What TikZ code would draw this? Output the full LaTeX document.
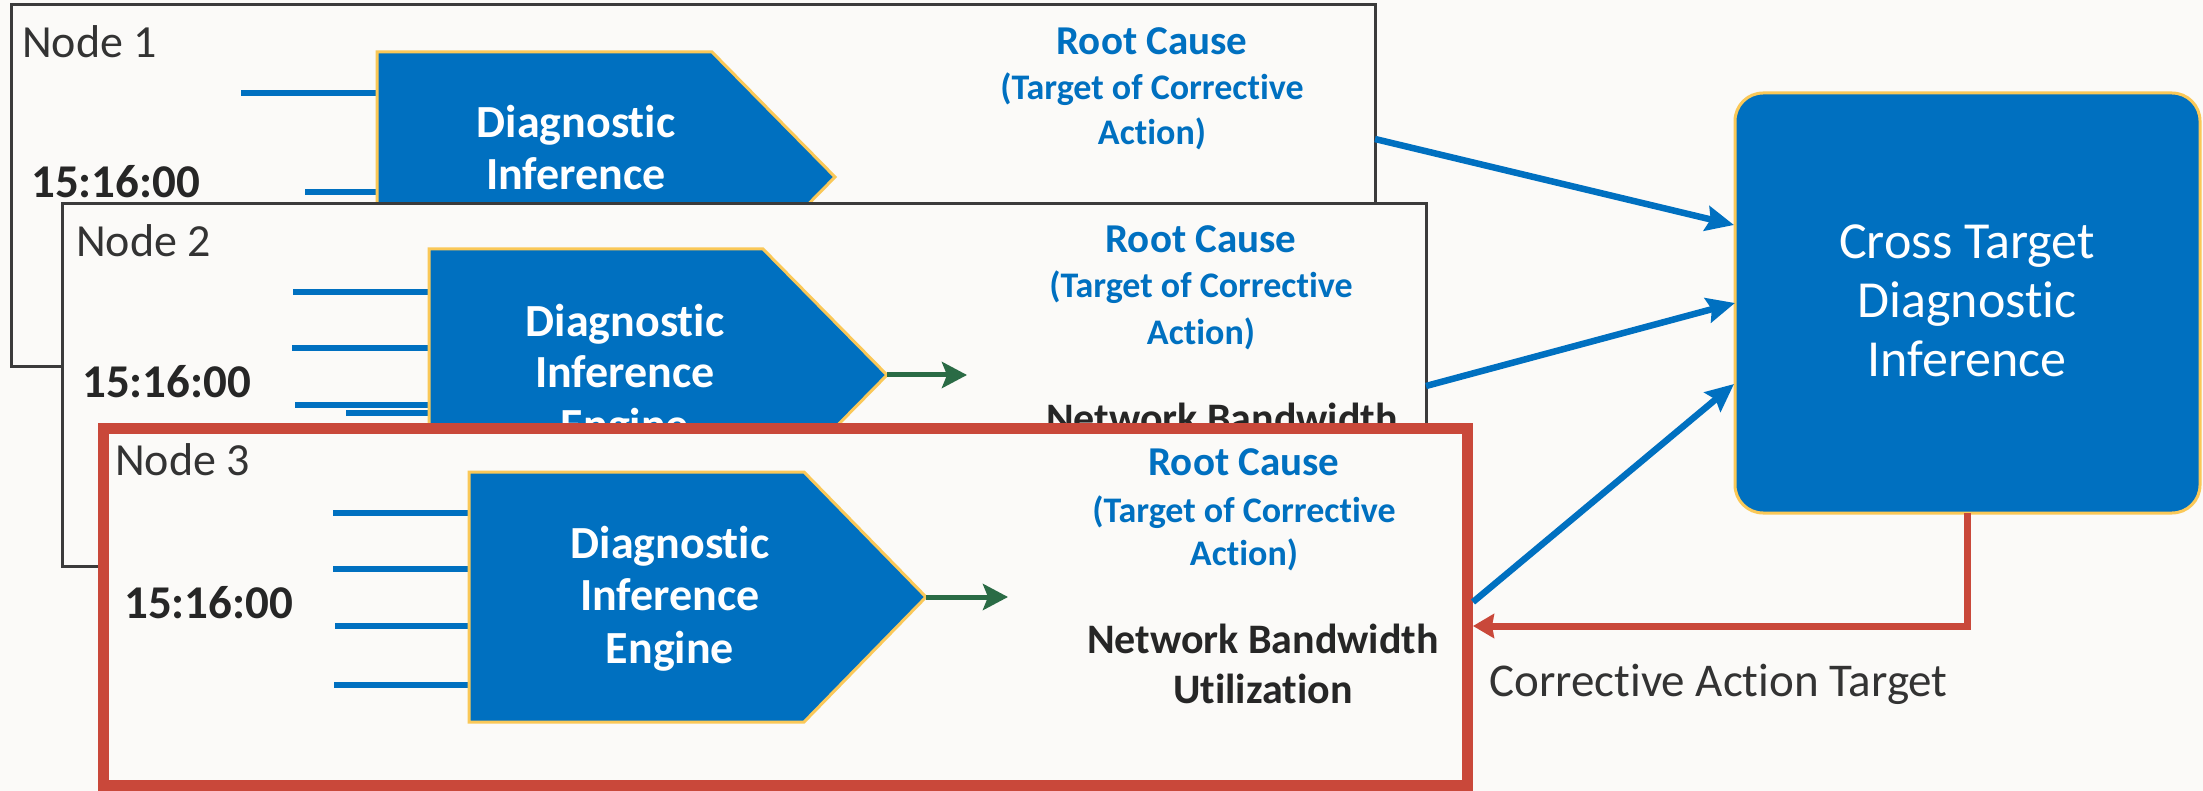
\documentclass[tikz,border=0pt]{standalone}
\usepackage{fontspec}
\setmainfont{Carlito}[Ligatures={NoCommon}]
\usetikzlibrary{arrows.meta}
\definecolor{dblue}{HTML}{0070C0}
\definecolor{gold}{HTML}{FAC858}
\definecolor{bg}{HTML}{FBFAF8}
\definecolor{boxgray}{HTML}{3B3B3B}
\definecolor{cred}{HTML}{C9483A}
\definecolor{dgreen}{HTML}{2A6B45}
\definecolor{txtgray}{HTML}{333333}
\definecolor{txtdark}{HTML}{262626}
\tikzset{
  panel/.style={draw=boxgray, line width=3pt, fill=bg, inner sep=0pt, outer sep=0pt, anchor=north west},
  redpanel/.style={draw=cred, line width=11.5pt, fill=bg, inner sep=0pt, outer sep=0pt, anchor=north west},
  pent/.style={fill=dblue, draw=gold, line width=3pt, line join=miter},
  inln/.style={draw=dblue, line width=6pt},
  lbl/.style={font=\fontsize{46}{50}\selectfont, text=txtgray, inner sep=0pt, anchor=base west},
  timelbl/.style={font=\bfseries\fontsize{47}{50}\selectfont, text=txtdark, inner sep=0pt, anchor=base west},
  eng/.style={font=\bfseries\fontsize{46}{50}\selectfont, text=white, inner sep=0pt, anchor=base},
  rc/.style={font=\bfseries\fontsize{41}{45}\selectfont, text=dblue, inner sep=0pt, anchor=base},
  tgt/.style={font=\bfseries\fontsize{36}{40}\selectfont, text=dblue, inner sep=0pt, anchor=base},
  nbw/.style={font=\bfseries\fontsize{42}{45}\selectfont, text=txtdark, inner sep=0pt, anchor=base},
  ctbox/.style={fill=dblue, draw=gold, line width=3pt, rounded corners=28pt, inner sep=0pt, outer sep=0pt, anchor=north west},
  cttxt/.style={font=\fontsize{52}{56}\selectfont, text=white, inner sep=0pt, anchor=base},
  garrow/.style={draw=dgreen, line width=5pt, -{Stealth[length=25pt,width=26pt,inset=5pt]}},
  barrow/.style={draw=dblue, line width=6.5pt, -{Stealth[length=28pt,width=25pt,inset=4pt]}},
  rarrow/.style={draw=cred, line width=7pt, -{Stealth[length=21pt,width=24pt,inset=2pt]}},
}
\begin{document}
\begin{tikzpicture}[x=1pt,y=-1pt]
\useasboundingbox[fill=bg] (0,0) rectangle (2203,791);

% ---------------- Panel 1 ----------------
\node[panel, minimum width=1364pt, minimum height=362pt] (p1) at (11,5) {};
\draw[inln] (241,93) -- (377,93);
\draw[inln] (305,192) -- (377,192);
\draw[pent] (377,52) -- (712,52) -- (835,177) -- (712,302) -- (377,302) -- cycle;
\node[eng] (e1a) at (576,138) {Diagnostic};
\node[eng] (e1b) at (576,190) {Inference};
\node[lbl] (l1) at (22,58) {Node 1};
\node[timelbl] (t1) at (31,198) {15:16:00};
\node[rc] (r1a) at (1152,55) {Root Cause};
\node[tgt] (r1b) at (1152,100) {(Target of Corrective};
\node[tgt] (r1c) at (1152,145) {Action)};

% ---------------- Panel 2 ----------------
\node[panel, minimum width=1364pt, minimum height=362pt] (p2) at (62,204) {};
\draw[inln] (293,292) -- (429,292);
\draw[inln] (292,348) -- (429,348);
\draw[inln] (295,405) -- (429,405);
\draw[inln] (346,413) -- (429,413);
\draw[pent] (429,249) -- (763,249) -- (887,375) -- (763,501) -- (429,501) -- cycle;
\coordinate (tip2) at (887,375);
\coordinate (g2) at (967,375);
\draw[garrow] (tip2) -- (g2);
\node[eng] (e2a) at (625,337) {Diagnostic};
\node[eng] (e2b) at (625,388) {Inference};
\node[eng] (e2c) at (625,440) {Engine};
\node[lbl] (l2) at (76,257) {Node 2};
\node[timelbl] (t2) at (82,397) {15:16:00};
\node[rc] (r2a) at (1201,253) {Root Cause};
\node[tgt] (r2b) at (1201,298) {(Target of Corrective};
\node[tgt] (r2c) at (1201,345) {Action)};
\node[nbw] (n2) at (1222,432) {Network Bandwidth};

% ---------------- Panel 3 ----------------
\node[redpanel, minimum width=1364pt, minimum height=357pt] (p3) at (103.5,428.5) {};
\draw[inln] (333,513) -- (469,513);
\draw[inln] (333,569) -- (469,569);
\draw[inln] (335,626) -- (469,626);
\draw[inln] (334,685) -- (469,685);
\draw[pent] (469,472) -- (804,472) -- (926,597) -- (804,722) -- (469,722) -- cycle;
\coordinate (tip3) at (926,597);
\coordinate (g3) at (1008,597);
\draw[garrow] (tip3) -- (g3);
\node[eng] (e3a) at (670,558) {Diagnostic};
\node[eng] (e3b) at (670,610) {Inference};
\node[eng] (e3c) at (670,663) {Engine};
\node[lbl] (l3) at (115,475) {Node 3};
\node[timelbl] (t3) at (124,618) {15:16:00};
\node[rc] (r3a) at (1244,475) {Root Cause};
\node[tgt] (r3b) at (1244,522) {(Target of Corrective};
\node[tgt] (r3c) at (1244,565) {Action)};
\node[nbw] (n3a) at (1263,653) {Network Bandwidth};
\node[nbw] (n3b) at (1263,703) {Utilization};

% ---------------- Cross target ----------------
\node[ctbox, minimum width=465pt, minimum height=420pt] (ct) at (1735,93) {};
\node[cttxt] (ct1) at (1967,259) {Cross Target};
\node[cttxt] (ct2) at (1967,318) {Diagnostic};
\node[cttxt] (ct3) at (1967,377) {Inference};

% ---------------- Connectors ----------------
\coordinate (o1) at (1375,139);
\coordinate (i1) at (1734,225);
\coordinate (o2) at (1426,386);
\coordinate (o3) at (1473,602);
\coordinate (i3) at (1734,384);
\draw[barrow] (o1) -- (i1);
\draw[barrow] (o2) -- (ct.west);
\draw[barrow] (o3) -- (i3);
\coordinate (c3) at (1473,626);
\draw[rarrow] (ct.south) |- (c3);
\node[lbl, font=\fontsize{47}{50}\selectfont] (cat) at (1489,696) {Corrective Action Target};
\end{tikzpicture}
\end{document}
